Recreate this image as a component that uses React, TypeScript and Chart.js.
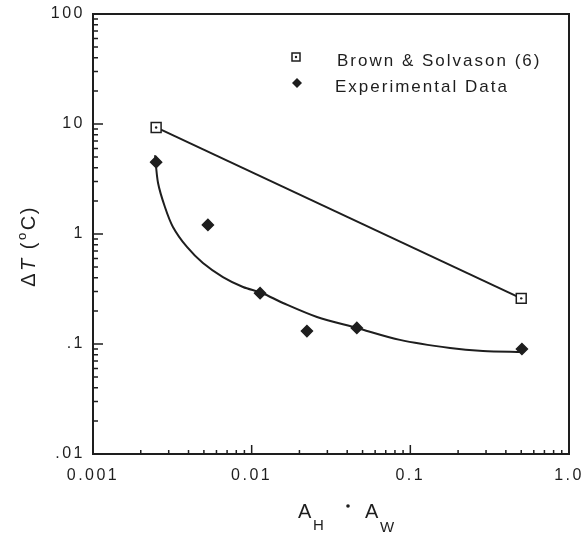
import React, { useEffect, useRef } from 'react';
import { Chart, registerables } from 'chart.js';

Chart.register(...registerables);

// ---- data ----
const brownX = [0.0025, 0.5];
const brownY = [9.3, 0.26];

const expX = [0.0025, 0.0053, 0.0113, 0.0223, 0.046, 0.505];
const expY = [4.5, 1.21, 0.29, 0.131, 0.14, 0.09];

// points
const fitX = [0.00246, 0.00257, 0.00284, 0.00319, 0.00391, 0.00493, 0.00659, 0.00882, 0.0116, 0.01575, 0.0258, 0.046, 0.086, 0.178, 0.287, 0.51];
const fitY = [5.2, 2.91, 1.76, 1.16, 0.762, 0.545, 0.406, 0.33, 0.291, 0.236, 0.176, 0.14, 0.109, 0.092, 0.0864, 0.0845];

const xTickValues = [0.001, 0.01, 0.1, 1];
const xTickLabels = ['0.001', '0.01', '0.1', '1.0'];
const yTickValues = [0.01, 0.1, 1, 10, 100];
const yTickLabels = ['.01', '.1', '1', '10', '100'];

const legendLabels = ['Brown & Solvason (6)', 'Experimental Data'];

const INK = '#1e1e1e';
const FONT = '"Liberation Sans", Arial, sans-serif';

const pairs = (xs: number[], ys: number[]) => xs.map((x, i) => ({ x, y: ys[i] }));

const labelFor = (vals: number[], labels: string[]) => (value: any) => {
  const v = Number(value);
  const i = vals.findIndex((t) => Math.abs(Math.log10(t) - Math.log10(v)) < 1e-6);
  return i >= 0 ? labels[i] : '';
};

const drawPieces = (
  ctx: CanvasRenderingContext2D,
  startX: number,
  pieces: { t: string; font: string; dy: number }[],
  spacing: number
) => {
  let x = startX;
  for (const p of pieces) {
    ctx.font = p.font;
    ctx.fillText(p.t, x, p.dy);
    x += ctx.measureText(p.t).width + spacing;
  }
  return x;
};

const decor = {
  id: 'decor',
  beforeUpdate(chart: any) {
    (chart.ctx as any).letterSpacing = '2.5px';
  },
  beforeDraw(chart: any) {
    const ctx = chart.ctx as CanvasRenderingContext2D;
    ctx.save();
    ctx.fillStyle = '#fff';
    ctx.fillRect(0, 0, chart.width, chart.height);
    ctx.restore();
    (ctx as any).letterSpacing = '2.5px';
  },
  afterDraw(chart: any) {
    const ctx = chart.ctx as CanvasRenderingContext2D;
    const ca = chart.chartArea;
    const xs = chart.scales.x;
    const ys = chart.scales.y;
    ctx.save();
    ctx.strokeStyle = INK;
    ctx.fillStyle = INK;

    // frame
    ctx.lineWidth = 2;
    ctx.strokeRect(ca.left, ca.top, ca.right - ca.left, ca.bottom - ca.top);

    // inward log ticks
    ctx.lineWidth = 1.5;
    ctx.beginPath();
    for (let d = -2; d <= 1; d++) {
      for (let m = 1; m <= 9; m++) {
        const py = ys.getPixelForValue(m * Math.pow(10, d));
        const len = m === 1 ? 10 : 5;
        ctx.moveTo(ca.left, py);
        ctx.lineTo(ca.left + len, py);
      }
    }
    for (let d = -3; d <= -1; d++) {
      for (let m = 1; m <= 9; m++) {
        const px = xs.getPixelForValue(m * Math.pow(10, d));
        const len = m === 1 ? 9 : 4;
        ctx.moveTo(px, ca.bottom);
        ctx.lineTo(px, ca.bottom - len);
      }
    }
    ctx.stroke();

    // legend
    const lx = ca.left;
    const ly = ca.top;
    ctx.lineWidth = 1.5;
    ctx.fillStyle = '#fff';
    ctx.fillRect(lx + 199, ly + 39, 8, 8);
    ctx.strokeRect(lx + 199, ly + 39, 8, 8);
    ctx.fillStyle = INK;
    ctx.beginPath();
    ctx.arc(lx + 203, ly + 43, 1.2, 0, Math.PI * 2);
    ctx.fill();
    ctx.beginPath();
    ctx.moveTo(lx + 204, ly + 64);
    ctx.lineTo(lx + 209, ly + 69);
    ctx.lineTo(lx + 204, ly + 74);
    ctx.lineTo(lx + 199, ly + 69);
    ctx.closePath();
    ctx.fill();

    (ctx as any).letterSpacing = '2px';
    ctx.font = `17px ${FONT}`;
    ctx.textBaseline = 'middle';
    ctx.textAlign = 'left';
    ctx.fillText(legendLabels[0], lx + 244, ly + 47);
    ctx.fillText(legendLabels[1], lx + 242, ly + 73);

    // y title: ΔT (°C)
    ctx.save();
    ctx.translate(28, (ca.top + ca.bottom) / 2 + 12);
    ctx.rotate(-Math.PI / 2);
    ctx.textBaseline = 'alphabetic';
    (ctx as any).letterSpacing = '1.5px';
    const yPieces = [
      { t: 'Δ', font: `20px ${FONT}`, dy: 7 },
      { t: 'T', font: `italic 20px ${FONT}`, dy: 7 },
      { t: ' (', font: `20px ${FONT}`, dy: 7 },
      { t: 'o', font: `13px ${FONT}`, dy: -2 },
      { t: 'C)', font: `20px ${FONT}`, dy: 7 },
    ];
    let total = 0;
    for (const p of yPieces) {
      ctx.font = p.font;
      total += ctx.measureText(p.t).width + 1;
    }
    drawPieces(ctx, -total / 2, yPieces, 1);
    ctx.restore();

    // x title: A_H · A_W
    const cx = (ca.left + ca.right) / 2;
    const by = ca.bottom;
    ctx.textBaseline = 'alphabetic';
    (ctx as any).letterSpacing = '0px';
    ctx.font = `20px ${FONT}`;
    ctx.fillText('A', cx - 33, by + 64);
    ctx.fillText('A', cx + 34, by + 64);
    ctx.font = `15px ${FONT}`;
    ctx.fillText('H', cx - 18, by + 76);
    ctx.fillText('W', cx + 49, by + 78);
    ctx.beginPath();
    ctx.arc(cx + 17, by + 52, 1.8, 0, Math.PI * 2);
    ctx.fill();

    ctx.restore();
    (ctx as any).letterSpacing = '2.5px';
  },
};

export default function App() {
  const ref = useRef<HTMLCanvasElement | null>(null);

  useEffect(() => {
    if (!ref.current) return;
    const chart = new Chart(ref.current, {
      type: 'scatter',
      data: {
        datasets: [
          {
            label: 'fit',
            data: pairs(fitX, fitY),
            showLine: true,
            borderColor: INK,
            borderWidth: 2,
            pointRadius: 0,
            tension: 0.3,
            order: 4,
          } as any,
          {
            label: legendLabels[0],
            data: pairs(brownX, brownY),
            showLine: true,
            borderColor: INK,
            borderWidth: 2,
            pointStyle: 'rect',
            pointRadius: 7,
            pointBackgroundColor: '#fff',
            pointBorderColor: INK,
            pointBorderWidth: 1.5,
            order: 3,
          } as any,
          {
            label: 'centre',
            data: pairs(brownX, brownY),
            showLine: false,
            pointStyle: 'circle',
            pointRadius: 1.2,
            pointBackgroundColor: INK,
            pointBorderWidth: 0,
            order: 1,
          } as any,
          {
            label: legendLabels[1],
            data: pairs(expX, expY),
            showLine: false,
            pointStyle: 'rectRot',
            pointRadius: 5.5,
            pointBackgroundColor: INK,
            pointBorderColor: INK,
            pointBorderWidth: 1.5,
            order: 2,
          } as any,
        ],
      },
      options: {
        responsive: false,
        animation: false,
        events: [],
        layout: { padding: { left: 0, top: 14, right: 16, bottom: 0 } },
        plugins: {
          legend: { display: false },
          tooltip: { enabled: false },
          title: { display: false },
        },
        scales: {
          x: {
            type: 'logarithmic',
            min: 0.001,
            max: 1,
            afterBuildTicks: (s: any) => {
              s.ticks = xTickValues.map((v) => ({ value: v }));
            },
            afterFit: (s: any) => {
              s.height = 81;
              s.paddingLeft = 0;
              s.paddingRight = 0;
            },
            grid: { display: false, drawTicks: false },
            border: { display: false },
            ticks: {
              callback: labelFor(xTickValues, xTickLabels),
              font: { family: FONT, size: 16 },
              color: INK,
              padding: 12,
              maxRotation: 0,
              autoSkip: false,
            },
          },
          y: {
            type: 'logarithmic',
            min: 0.01,
            max: 100,
            afterBuildTicks: (s: any) => {
              s.ticks = yTickValues.map((v) => ({ value: v }));
            },
            afterFit: (s: any) => {
              s.width = 93;
              s.paddingTop = 0;
              s.paddingBottom = 0;
            },
            grid: { display: false, drawTicks: false },
            border: { display: false },
            ticks: {
              callback: labelFor(yTickValues, yTickLabels),
              font: { family: FONT, size: 16 },
              color: INK,
              padding: 8,
              autoSkip: false,
            },
          },
        },
      },
      plugins: [decor],
    });
    return () => chart.destroy();
  }, []);

  return (
    <div style={{ position: 'absolute', left: 0, top: 0, width: 585, height: 535, background: '#fff' }}>
      <canvas ref={ref} width={585} height={535} style={{ width: 585, height: 535, display: 'block' }} />
    </div>
  );
}
